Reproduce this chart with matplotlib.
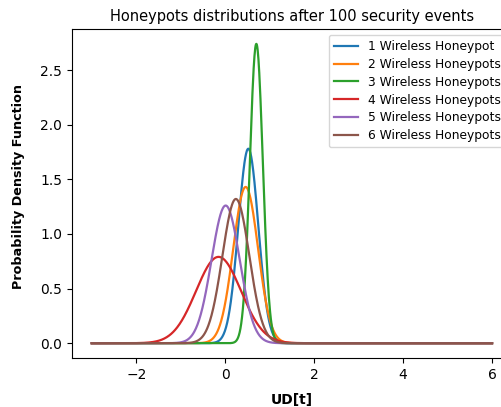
import numpy as np
import matplotlib.pyplot as plt

# centre and peak height of each density curve
labels = ['1 Wireless Honeypot', '2 Wireless Honeypots', '3 Wireless Honeypots',
          '4 Wireless Honeypots', '5 Wireless Honeypots', '6 Wireless Honeypots']
means = [0.52, 0.46, 0.70, -0.15, 0.01, 0.24]
peaks = [1.78, 1.43, 2.74, 0.79, 1.26, 1.32]
x_range = [-3, 6]

x = np.linspace(x_range[0], x_range[1], 1000)

fig = plt.figure(figsize=(5.02, 4.07), dpi=100)
ax = fig.add_axes([0.143, 0.120, 0.877, 0.809])

for lab, m, p in zip(labels, means, peaks):
    s = 1 / (np.sqrt(2 * np.pi) * p)
    y = np.exp(-0.5 * ((x - m) / s) ** 2) / (s * np.sqrt(2 * np.pi))
    ax.plot(x, y, label=lab, linewidth=1.6)

ax.set_xlim(-3.45, 6.45)
ax.set_title('Honeypots distributions after 100 security events', fontsize=10.5)
ax.set_xlabel('UD[t]', fontweight='bold', fontsize=10, labelpad=8)
ax.set_ylabel('Probability Density Function', fontweight='bold', fontsize=9.2,
              labelpad=11, y=0.52)
ax.tick_params(labelsize=10)
ax.legend(loc='upper right', fontsize=8.8, labelspacing=0.4, borderaxespad=0.5)

plt.savefig('out.png', dpi=100)
